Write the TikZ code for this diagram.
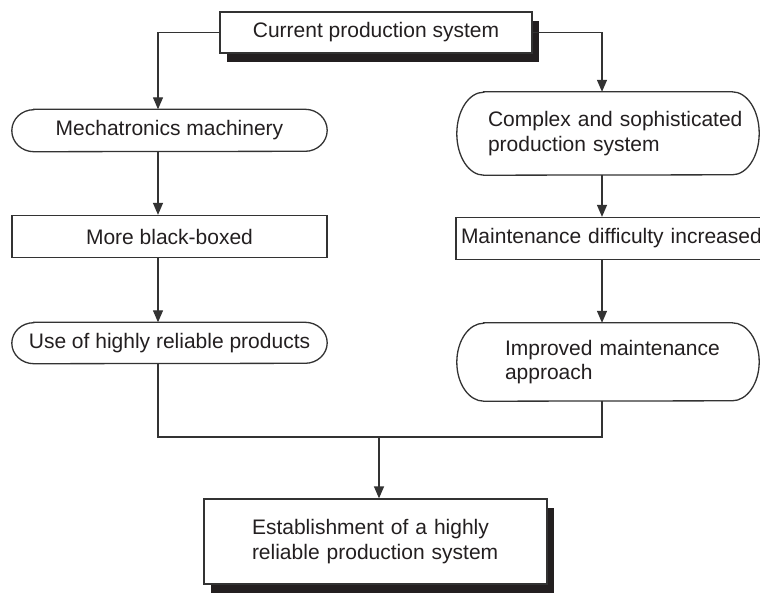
\documentclass[tikz,border=0pt]{standalone}
\usepackage{fontspec}
\setmainfont{Liberation Sans}
\usetikzlibrary{arrows.meta,shadows}
\definecolor{ink}{HTML}{231F20}
\definecolor{ln}{HTML}{333333}
\tikzset{
  base/.style={inner sep=0pt, font=\fontsize{21}{24.5}\selectfont, text=ink},
  sqbox/.style={base, draw=ln, line width=1.3pt, fill=white},
  shbox/.style={sqbox, drop shadow={shadow xshift=7pt, shadow yshift=-9pt, fill=ink, opacity=1}},
  pillbox/.style={base},
  conn/.style={draw=ln, line width=1.3pt},
  arr/.style={conn, -{Triangle[width=10pt,length=12pt]}},
  outl/.style={draw=ln, line width=1.3pt}
}
\newcommand\pillline[3]{%
  \draw[outl] ([xshift=#2]#1.north west) -- ([xshift=-#2]#1.north east)
    arc[start angle=90, end angle=-90, x radius=#2, y radius=#3]
    -- ([xshift=#2]#1.south west)
    arc[start angle=270, end angle=90, x radius=#2, y radius=#3] -- cycle;}
\begin{document}
\begin{tikzpicture}[x=1pt,y=-1pt]
\clip (0,0) rectangle (760,594);
\fill[white] (0,0) rectangle (760,594);

% nodes
\node[shbox, minimum width=312pt, minimum height=41pt] (top) at (376,32.5) {Current production system};

\node[pillbox, minimum width=315pt, minimum height=42pt] (mech) at (169.5,130.5) {Mechatronics machinery};
\node[sqbox, minimum width=315pt, minimum height=42pt] (black) at (169.5,236.5) {More black-boxed};
\node[pillbox, minimum width=315pt, minimum height=41pt] (use) at (169.5,343) {Use of highly reliable products};

\node[pillbox, minimum width=302pt, minimum height=83pt, text width=302pt, align=left] (cplx) at (608,133.5)
  {\hspace*{31pt}Complex and sophisticated\\\hspace*{31pt}production system};
\node[sqbox, minimum width=340pt, minimum height=42pt, text width=330pt, inner xsep=5pt, align=left] (maint) at (626,238.5)
  {Maintenance difficulty increased};
\node[pillbox, minimum width=302pt, minimum height=78pt, text width=302pt, align=left] (impr) at (608,362)
  {\hspace*{48pt}Improved maintenance\\\hspace*{48pt}approach};

\node[shbox, minimum width=343pt, minimum height=85pt, text width=343pt, align=left] (bot) at (375.5,541.5)
  {\hspace*{48pt}Establishment of a highly\\\hspace*{48pt}reliable production system};

% rounded outlines
\pillline{mech}{22pt}{21pt}
\pillline{use}{22pt}{20.5pt}
\pillline{cplx}{27pt}{41.5pt}
\pillline{impr}{27pt}{39pt}

% connectors
\coordinate (lx) at (158,0);
\coordinate (rx) at (602,0);
\coordinate (m) at (379,437);
\draw[arr] (top.west) -| (lx |- mech.north);
\draw[arr] (top.east) -| (rx |- cplx.north);
\draw[arr] (lx |- mech.south) -- (lx |- black.north);
\draw[arr] (lx |- black.south) -- (lx |- use.north);
\draw[arr] (rx |- cplx.south) -- (rx |- maint.north);
\draw[arr] (rx |- maint.south) -- (rx |- impr.north);
\draw[conn] (lx |- use.south) |- (m) -| (rx |- impr.south);
\draw[arr] (m) -- (m |- bot.north);
\end{tikzpicture}
\end{document}
